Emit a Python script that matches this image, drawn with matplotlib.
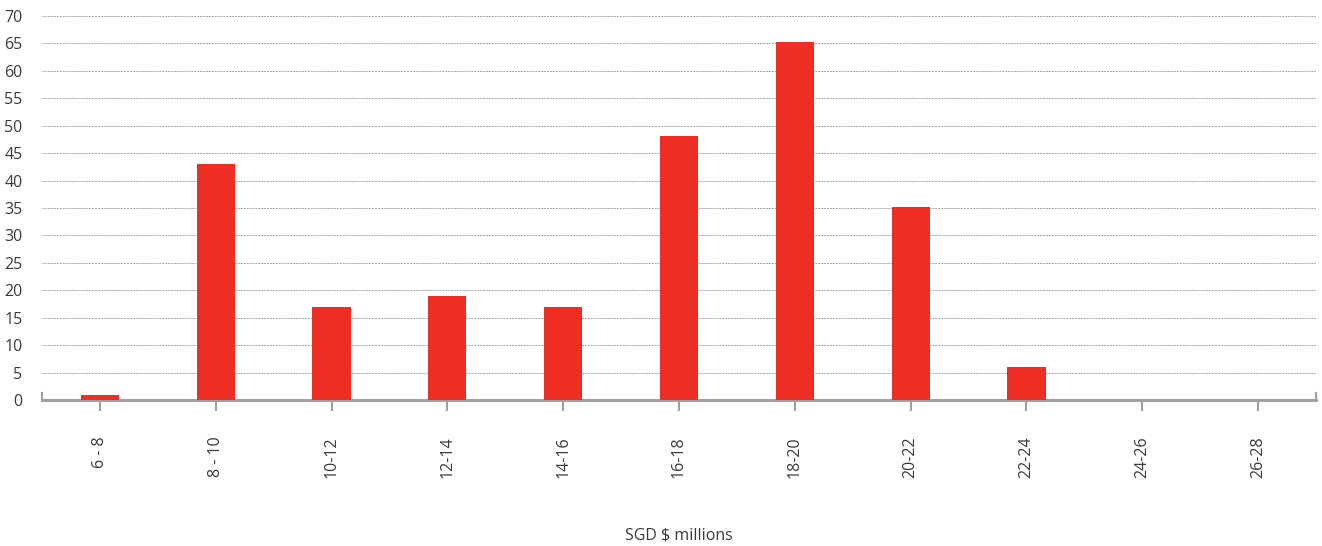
import matplotlib.pyplot as plt

plt.rcParams['font.family'] = ['Open Sans', 'DejaVu Sans']

categories = ["6 - 8", "8 - 10", "10-12", "12-14", "14-16", "16-18",
              "18-20", "20-22", "22-24", "24-26", "26-28"]
counts = [1, 43, 17, 19, 17, 48.2, 65.3, 35.2, 6, 0, 0]
y_ticks = list(range(0, 75, 5))

fig = plt.figure(figsize=(13.22, 5.46), dpi=100)
ax = fig.add_axes([42 / 1322, 1 - 400 / 546, 1274 / 1322, 384 / 546])

x = list(range(len(categories)))
ax.bar(x, counts, width=0.33, color="#ee2e24", zorder=3)

ax.set_xlim(-0.5, len(categories) - 0.5)
ax.set_ylim(0, 70)
ax.set_yticks(y_ticks)
ax.set_xticks(x)
ax.set_xticklabels(categories, rotation=90)

ax.grid(axis="y", color="#a6a6a6", linestyle=(0, (2, 1)), linewidth=0.7, zorder=0)
ax.tick_params(axis="y", length=0, pad=14, labelsize=11.5, labelcolor="#3a3a3a")
ax.tick_params(axis="x", length=8, width=1.5, color="#a0a0a0", pad=18,
               labelsize=11.5, labelcolor="#3a3a3a")

ax.spines["top"].set_visible(False)
ax.spines["bottom"].set_color("#a0a0a0")
ax.spines["bottom"].set_linewidth(2.2)
for s in ["left", "right"]:
    ax.spines[s].set_color("#a0a0a0")
    ax.spines[s].set_linewidth(1.5)
    ax.spines[s].set_bounds(0, 1.2)

ax.set_xlabel("SGD $ millions", fontsize=11.5, color="#3a3a3a", labelpad=36)

fig.savefig("out.png", dpi=100)
